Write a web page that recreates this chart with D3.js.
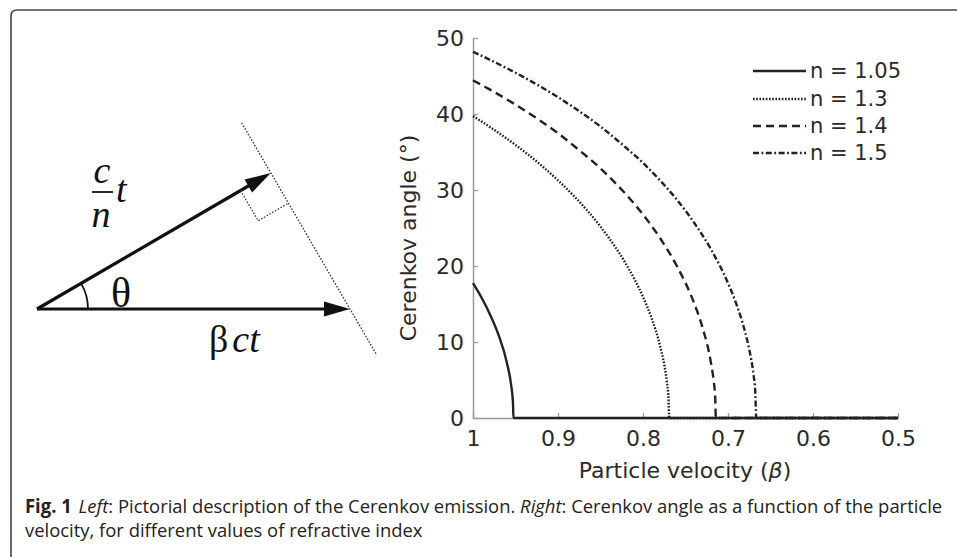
<!DOCTYPE html>
<html>
<head>
<meta charset="utf-8">
<script src="https://cdn.jsdelivr.net/npm/d3@7"></script>
<style>
  body { margin: 0; background: #fff; }
  svg { display: block; }
</style>
</head>
<body>
<div id="fig"></div>
<script>
// values (Cerenkov angle in degrees vs particle velocity beta)
const betaN105 = [1.00, 0.99, 0.98, 0.97, 0.96, 0.955, 0.953, 0.9524, 0.5];
const angleN105 = [17.75, 15.85, 13.63, 10.94, 7.22, 4.24, 2.07, 0, 0];

const betaN13 = [1.00, 0.98, 0.95, 0.92, 0.90, 0.88, 0.85, 0.84, 0.82, 0.80, 0.79, 0.78, 0.775, 0.772, 0.770, 0.7692, 0.5];
const angleN13 = [39.72, 38.28, 35.93, 33.27, 31.27, 29.06, 25.18, 23.68, 20.26, 15.94, 13.17, 9.53, 7.0, 4.86, 2.56, 0, 0];

const betaN14 = [1.00, 0.98, 0.95, 0.92, 0.90, 0.88, 0.85, 0.82, 0.80, 0.78, 0.76, 0.74, 0.73, 0.72, 0.717, 0.715, 0.7143, 0.5];
const angleN14 = [44.42, 43.21, 41.23, 39.06, 37.47, 35.69, 32.83, 29.42, 26.77, 23.68, 19.97, 15.15, 11.91, 7.22, 4.99, 2.56, 0, 0];

const betaN15 = [1.00, 0.98, 0.95, 0.92, 0.90, 0.88, 0.85, 0.82, 0.80, 0.78, 0.76, 0.74, 0.72, 0.70, 0.69, 0.68, 0.675, 0.67, 0.668, 0.6667, 0.5];
const angleN15 = [48.19, 47.13, 45.43, 43.56, 42.21, 40.75, 38.34, 35.56, 33.56, 31.27, 28.70, 25.72, 22.19, 17.75, 14.94, 11.37, 9.02, 5.72, 3.62, 0, 0];

const seriesNames = ["n = 1.05", "n = 1.3", "n = 1.4", "n = 1.5"];
const xTicks = [1, 0.9, 0.8, 0.7, 0.6, 0.5];
const yTicks = [0, 10, 20, 30, 40, 50];

const W = 957, H = 557;
const ink = "#222";

const svg = d3.select("#fig").append("svg")
    .attr("width", W)
    .attr("height", H);

// figure frame (rounded top-left corner)
svg.append("path")
    .attr("d", "M11,557 L11,16 Q11,10 17,10 L957,10")
    .attr("fill", "none")
    .attr("stroke", "#444")
    .attr("stroke-width", 1.6);

// ---------- left: pictorial diagram ----------
const diag = svg.append("g");
const origin = [37, 309];
const lenBeta = 313;            // beta*c*t
const theta = 30.2 * Math.PI / 180;
const lenCn = lenBeta * Math.cos(theta); // (c/n)*t
const tipH = [origin[0] + lenBeta, origin[1]];
const tipU = [origin[0] + lenCn * Math.cos(theta), origin[1] - lenCn * Math.sin(theta)];

function arrow(from, to) {
    const dx = to[0] - from[0], dy = to[1] - from[1];
    const L = Math.hypot(dx, dy), ux = dx / L, uy = dy / L;
    const hl = 26, hw = 7.5;
    const bx = to[0] - ux * hl, by = to[1] - uy * hl;
    diag.append("line")
        .attr("x1", from[0]).attr("y1", from[1])
        .attr("x2", bx + ux * 2).attr("y2", by + uy * 2)
        .attr("stroke", "#111").attr("stroke-width", 3.2);
    diag.append("path")
        .attr("d", "M" + to[0] + "," + to[1] +
            "L" + (bx - uy * hw) + "," + (by + ux * hw) +
            "L" + (bx + uy * hw) + "," + (by - ux * hw) + "Z")
        .attr("fill", "#111");
}
arrow(origin, tipH);
arrow(origin, tipU);

// wavefront (dotted), perpendicular to c/n t, through both tips
const wdx = Math.sin(theta), wdy = Math.cos(theta);
diag.append("line")
    .attr("x1", tipU[0] - wdx * 58).attr("y1", tipU[1] - wdy * 58)
    .attr("x2", tipH[0] + wdx * 53).attr("y2", tipH[1] + wdy * 53)
    .attr("stroke", "#333").attr("stroke-width", 1.3)
    .attr("stroke-dasharray", "1.6,1.6");

// right-angle marker
const ms = 35;
const ux = Math.cos(theta), uy = -Math.sin(theta);
const pA = [tipU[0] - ux * ms, tipU[1] - uy * ms];
const pC = [tipU[0] + wdx * ms, tipU[1] + wdy * ms];
const pB = [pA[0] + wdx * ms, pA[1] + wdy * ms];
diag.append("path")
    .attr("d", "M" + pA + "L" + pB + "L" + pC)
    .attr("fill", "none").attr("stroke", "#333").attr("stroke-width", 1.2)
    .attr("stroke-dasharray", "1.6,1.6");

// angle arc
const r = 51;
diag.append("path")
    .attr("d", "M" + (origin[0] + r) + "," + origin[1] +
        " A" + r + "," + r + " 0 0 0 " + (origin[0] + r * Math.cos(theta)) + "," + (origin[1] - r * Math.sin(theta)))
    .attr("fill", "none").attr("stroke", "#111").attr("stroke-width", 1.8);

const serif = "'Liberation Serif', 'DejaVu Serif', serif";
diag.append("text").attr("x", 121).attr("y", 307)
    .attr("text-anchor", "middle")
    .style("font-family", serif).style("font-size", "42px").style("fill", "#111")
    .text("θ");
diag.append("text").attr("x", 102).attr("y", 183)
    .attr("text-anchor", "middle")
    .style("font-family", serif).style("font-size", "38px").style("font-style", "italic").style("fill", "#111")
    .text("c");
diag.append("line").attr("x1", 92).attr("x2", 113).attr("y1", 192).attr("y2", 192)
    .attr("stroke", "#111").attr("stroke-width", 1.8);
diag.append("text").attr("x", 101).attr("y", 227)
    .attr("text-anchor", "middle")
    .style("font-family", serif).style("font-size", "38px").style("font-style", "italic").style("fill", "#111")
    .text("n");
diag.append("text").attr("x", 116).attr("y", 202)
    .style("font-family", serif).style("font-size", "38px").style("font-style", "italic").style("fill", "#111")
    .text("t");
const bct = diag.append("text").attr("x", 209).attr("y", 352)
    .style("font-family", serif).style("font-size", "38px").style("fill", "#111");
bct.append("tspan").text("β");
bct.append("tspan").attr("dx", 4).style("font-style", "italic").text("ct");

// ---------- right: chart ----------
const x = d3.scaleLinear().domain([1, 0.5]).range([473, 898]);
const y = d3.scaleLinear().domain([0, 50]).range([418, 38]);
const sans = "'DejaVu Sans', sans-serif";
const axisGrey = "#9a9a9a";

const xAxis = svg.append("g")
    .attr("transform", "translate(0," + y(0) + ")")
    .call(d3.axisBottom(x).tickValues(xTicks).tickSize(-5).tickSizeOuter(0).tickPadding(10)
        .tickFormat(d3.format("~g")));
xAxis.select(".domain").attr("stroke", axisGrey).attr("stroke-width", 1.5);
xAxis.selectAll(".tick line").attr("stroke", axisGrey).attr("stroke-width", 1.3);
xAxis.selectAll(".tick text")
    .style("font-family", sans).style("font-size", "22px").attr("fill", "#2a2a2a")
    .attr("dy", "0.82em");

const yAxis = svg.append("g")
    .attr("transform", "translate(" + x(1) + ",0)")
    .call(d3.axisLeft(y).tickValues(yTicks).tickSize(-5).tickSizeOuter(0).tickPadding(9));
yAxis.select(".domain").attr("stroke", axisGrey).attr("stroke-width", 1.5);
yAxis.selectAll(".tick line").attr("stroke", axisGrey).attr("stroke-width", 1.3);
yAxis.selectAll(".tick text")
    .style("font-family", sans).style("font-size", "22px").attr("fill", "#2a2a2a");

// axis titles
const xt = svg.append("text").attr("x", 685).attr("y", 478)
    .attr("text-anchor", "middle")
    .style("font-family", sans).style("font-size", "22px").style("fill", "#2a2a2a");
xt.append("tspan").text("Particle velocity (");
xt.append("tspan").style("font-style", "italic").text("β");
xt.append("tspan").text(")");

svg.append("text")
    .attr("transform", "translate(416,238) rotate(-90)")
    .attr("text-anchor", "middle")
    .style("font-family", sans).style("font-size", "22px").style("fill", "#2a2a2a")
    .text("Cerenkov angle (°)");

// series
const series = [
    { name: seriesNames[0], beta: betaN105, angle: angleN105, dash: null },
    { name: seriesNames[1], beta: betaN13, angle: angleN13, dash: "1.6,1.6" },
    { name: seriesNames[2], beta: betaN14, angle: angleN14, dash: "8,5" },
    { name: seriesNames[3], beta: betaN15, angle: angleN15, dash: "6,2.5,1.8,2.5" }
];

const line = d3.line()
    .x(d => x(d[0]))
    .y(d => y(d[1]))
    .curve(d3.curveMonotoneX);

// draw n = 1.05 last so its solid zero segment sits on top
series.slice().reverse().forEach(s => {
    svg.append("path")
        .datum(s.beta.map((b, i) => [b, s.angle[i]]))
        .attr("fill", "none")
        .attr("stroke", ink)
        .attr("stroke-width", 2.4)
        .attr("stroke-dasharray", s.dash)
        .attr("d", line);
});

// legend
const legend = svg.append("g");
const legRows = [71, 99, 126, 153];
series.forEach((s, i) => {
    legend.append("line")
        .attr("x1", 753).attr("x2", 806)
        .attr("y1", legRows[i]).attr("y2", legRows[i])
        .attr("stroke", ink).attr("stroke-width", 2.4)
        .attr("stroke-dasharray", s.dash);
    legend.append("text")
        .attr("x", 810).attr("y", legRows[i] + 7)
        .style("font-family", sans).style("font-size", "21px").style("fill", "#2a2a2a")
        .text(s.name);
});

// ---------- caption ----------
const capFont = "'Liberation Sans Narrow', 'Open Sans', 'Liberation Sans', sans-serif";
const cap1 = svg.append("g");
const t1 = cap1.append("text").attr("x", 0).attr("y", 0)
    .style("font-family", capFont).style("font-size", "19px").style("fill", "#222");
t1.append("tspan").style("font-weight", "bold").text("Fig. 1");
t1.append("tspan").attr("dx", 7).style("font-style", "italic").text("Left");
t1.append("tspan").text(": Pictorial description of the Cerenkov emission. ");
t1.append("tspan").style("font-style", "italic").text("Right");
t1.append("tspan").text(": Cerenkov angle as a function of the particle");

const cap2 = svg.append("g");
cap2.append("text").attr("x", 0).attr("y", 0)
    .style("font-family", capFont).style("font-size", "19px").style("fill", "#222")
    .text("velocity, for different values of refractive index");

const natural = t1.node().getComputedTextLength();
const k = natural > 0 ? 911 / natural : 1;
cap1.attr("transform", "translate(25,513) scale(" + k + ",1)");
cap2.attr("transform", "translate(25,537) scale(" + k + ",1)");
</script>
</body>
</html>
